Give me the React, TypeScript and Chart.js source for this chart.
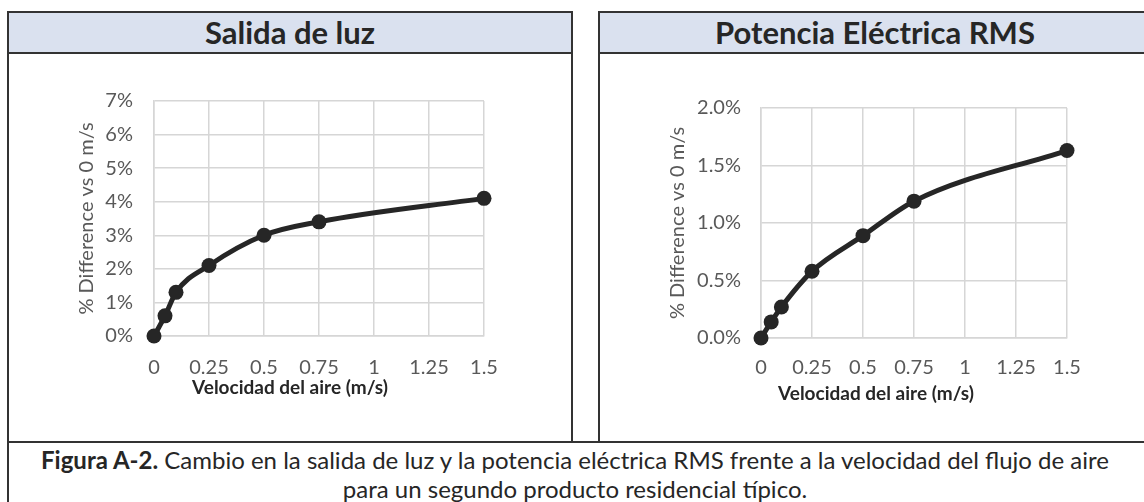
import React, { useEffect, useRef } from "react";
import { Chart, registerables } from "chart.js";

Chart.register(...registerables);

// ---- data ----
const airSpeed = [0, 0.05, 0.1, 0.25, 0.5, 0.75, 1.5];
const lightOutputPct = [0, 0.6, 1.3, 2.1, 3.0, 3.4, 4.1];
const rmsPowerPct = [0, 0.14, 0.27, 0.58, 0.89, 1.19, 1.63];
const xTickLabels = ["0", "0.25", "0.5", "0.75", "1", "1.25", "1.5"];
const leftYTickLabels = ["0%", "1%", "2%", "3%", "4%", "5%", "6%", "7%"];
const rightYTickLabels = ["0.0%", "0.5%", "1.0%", "1.5%", "2.0%"];

const leftTitle = "Salida de luz";
const rightTitle = "Potencia Eléctrica RMS";
const yAxisTitle = "% Difference vs 0 m/s";
const xAxisTitle = "Velocidad del aire (m/s)";
const captionBold = "Figura A-2.";
const captionLine1 =
  " Cambio en la salida de luz y la potencia eléctrica RMS frente a la velocidad del flujo de aire";
const captionLine2 = "para un segundo producto residencial típico.";

const FONT = "Lato, 'Open Sans', sans-serif";

const xTitlePlugin = {
  id: "xTitle",
  afterDraw(chart: any, _args: any, opts: any) {
    const { ctx, chartArea } = chart;
    ctx.save();
    ctx.font = opts.font;
    ctx.fillStyle = opts.color;
    ctx.textAlign = "center";
    ctx.textBaseline = "middle";
    ctx.fillText(
      opts.text,
      (chartArea.left + chartArea.right) / 2 + opts.dx,
      chartArea.bottom + opts.dy
    );
    ctx.restore();
  },
};

type ChartProps = {
  left: number;
  top: number;
  width: number;
  height: number;
  values: number[];
  yMax: number;
  yStep: number;
  yLabels: string[];
  padTop: number;
  padRight: number;
  yWidth: number;
  xHeight: number;
  yTitlePad: number;
  yTickPad: number;
  xTickPad: number;
  xTitleDx: number;
  xTitleDy: number;
};

function LineChart(p: ChartProps) {
  const ref = useRef<HTMLCanvasElement | null>(null);
  useEffect(() => {
    if (!ref.current) return;
    const gridColor = "#d6d6d6";
    const chart = new Chart(ref.current, {
      type: "line",
      data: {
        datasets: [
          {
            data: airSpeed.map((x, i) => ({ x, y: p.values[i] })),
            borderColor: "#262626",
            backgroundColor: "#262626",
            borderWidth: 5,
            pointRadius: 7.5,
            pointBorderWidth: 0,
            pointBackgroundColor: "#262626",
            cubicInterpolationMode: "monotone",
            fill: false,
            clip: false,
          },
        ],
      },
      options: {
        animation: false,
        responsive: false,
        devicePixelRatio: 1,
        layout: { padding: { top: p.padTop, right: p.padRight, left: 0, bottom: 0 } },
        plugins: {
          legend: { display: false },
          tooltip: { enabled: false },
          xTitle: {
            text: xAxisTitle,
            font: `bold 19px ${FONT}`,
            color: "#262626",
            dx: p.xTitleDx,
            dy: p.xTitleDy,
          },
        } as any,
        scales: {
          x: {
            type: "linear",
            min: 0,
            max: 1.5,
            afterFit: (s: any) => {
              s.height = p.xHeight;
              s.paddingLeft = 0;
              s.paddingRight = 0;
            },
            grid: { color: gridColor, lineWidth: 1.5, drawTicks: false },
            border: { color: gridColor, width: 1.5 },
            ticks: {
              stepSize: 0.25,
              autoSkip: false,
              maxRotation: 0,
              padding: p.xTickPad,
              color: "#595959",
              font: { family: FONT, size: 20 },
              callback: (_v: any, i: number) => xTickLabels[i],
            },
          },
          y: {
            type: "linear",
            min: 0,
            max: p.yMax,
            afterFit: (s: any) => {
              s.width = p.yWidth;
              s.paddingTop = 0;
              s.paddingBottom = 0;
            },
            grid: { color: gridColor, lineWidth: 1.5, drawTicks: false },
            border: { color: gridColor, width: 1.5 },
            ticks: {
              stepSize: p.yStep,
              autoSkip: false,
              padding: p.yTickPad,
              color: "#595959",
              font: { family: FONT, size: 20 },
              callback: (_v: any, i: number) => p.yLabels[i],
            },
            title: {
              display: true,
              text: yAxisTitle,
              color: "#595959",
              font: { family: FONT, size: 20 },
              padding: { top: p.yTitlePad, bottom: 0 },
            },
          },
        },
      } as any,
      plugins: [xTitlePlugin],
    });
    return () => chart.destroy();
  }, []);
  return (
    <canvas
      ref={ref}
      width={p.width}
      height={p.height}
      style={{
        position: "absolute",
        left: p.left,
        top: p.top,
        width: p.width,
        height: p.height,
      }}
    />
  );
}

const border = "2px solid #333";

function Panel(props: { left: number; width: number; title: string }) {
  return (
    <div
      style={{
        position: "absolute",
        left: props.left,
        top: 11,
        width: props.width,
        height: 432,
        border,
        boxSizing: "border-box",
      }}
    >
      <div
        style={{
          height: 41,
          boxSizing: "border-box",
          borderBottom: border,
          background: "#dae1ef",
          textAlign: "center",
          fontFamily: FONT,
          fontWeight: 700,
          fontSize: 31,
          lineHeight: "38px",
          color: "#262626",
          whiteSpace: "nowrap",
        }}
      >
        {props.title}
      </div>
    </div>
  );
}

export default function App() {
  return (
    <div
      style={{
        position: "absolute",
        left: 0,
        top: 0,
        width: 1144,
        height: 502,
        overflow: "hidden",
        background: "#ffffff",
      }}
    >
      <Panel left={7} width={566} title={leftTitle} />
      <Panel left={598} width={554} title={rightTitle} />
      <div
        style={{
          position: "absolute",
          left: 7,
          top: 441,
          width: 1160,
          height: 100,
          border,
          boxSizing: "border-box",
        }}
      />
      <div
        style={{
          position: "absolute",
          left: 0,
          top: 445,
          width: 1150,
          textAlign: "center",
          fontFamily: FONT,
          fontSize: 24,
          lineHeight: "29px",
          color: "#262626",
          whiteSpace: "nowrap",
        }}
      >
        <div>
          <b>{captionBold}</b>
          {captionLine1}
        </div>
        <div>{captionLine2}</div>
      </div>
      <LineChart
        left={60}
        top={80}
        width={470}
        height={340}
        values={lightOutputPct}
        yMax={7}
        yStep={1}
        yLabels={leftYTickLabels}
        padTop={21}
        padRight={46}
        yWidth={94}
        xHeight={84}
        yTitlePad={15}
        yTickPad={21}
        xTickPad={20}
        xTitleDx={-29}
        xTitleDy={52}
      />
      <LineChart
        left={660}
        top={90}
        width={450}
        height={340}
        values={rmsPowerPct}
        yMax={2}
        yStep={0.5}
        yLabels={rightYTickLabels}
        padTop={18}
        padRight={43}
        yWidth={101}
        xHeight={92}
        yTitlePad={6}
        yTickPad={20}
        xTickPad={18}
        xTitleDx={-38}
        xTitleDy={56}
      />
    </div>
  );
}
